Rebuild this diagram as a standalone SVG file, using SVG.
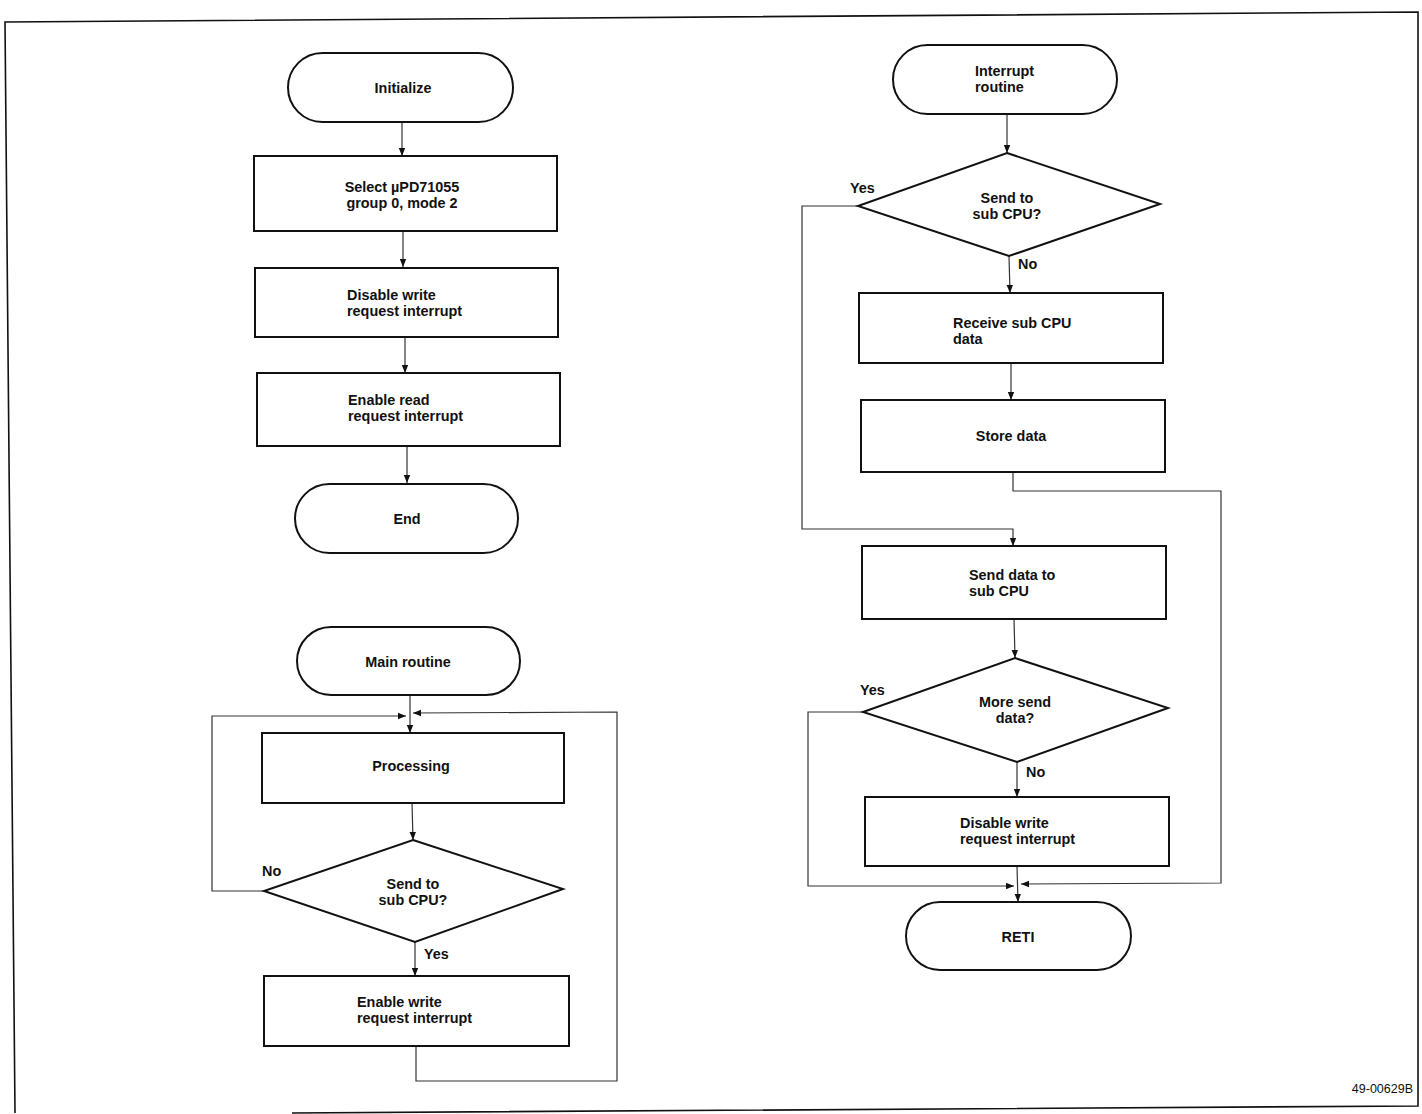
<svg xmlns="http://www.w3.org/2000/svg" width="1422" height="1114" viewBox="0 0 1422 1114">
<defs>
<marker id="ah" viewBox="0 0 10 10" refX="10" refY="5" markerWidth="8" markerHeight="8" markerUnits="userSpaceOnUse" orient="auto">
<path d="M0,1 L10,5 L0,9 z" fill="#111"/>
</marker>
</defs>
<style>
.shape{fill:#fff;stroke:#111;stroke-width:2}
.t{font-family:"Liberation Sans",Arial,sans-serif;font-size:14.4px;font-weight:bold;fill:#111}
.m{text-anchor:middle}
.c{fill:none;stroke:#333;stroke-width:1.2}
.a{marker-end:url(#ah)}
.frame{fill:none;stroke:#111;stroke-width:1.6}
.small{font-family:"Liberation Sans",Arial,sans-serif;font-size:12.5px;fill:#111;text-anchor:end}
</style>
<rect width="1422" height="1114" fill="#fff"/>
<path class="frame" d="M292,1113 L1418,1106 L1418,12 L5,22 L15,1113"/>
<text class="small" x="1413" y="1093">49-00629B</text>

<g id="connectors">
<line class="c a" x1="402" y1="122" x2="402" y2="156"/>
<line class="c a" x1="403" y1="231" x2="403" y2="267"/>
<line class="c a" x1="405" y1="337" x2="405" y2="373"/>
<line class="c a" x1="407" y1="446" x2="407" y2="483"/>
<line class="c a" x1="410" y1="695" x2="410" y2="733"/>
<polyline class="c a" points="264,891 212,891 212,716 406,716"/>
<polyline class="c a" points="416,1047 416,1081 617,1081 617,712 413,713"/>
<line class="c a" x1="412" y1="803" x2="413" y2="840"/>
<line class="c a" x1="415" y1="942" x2="415" y2="976"/>
<line class="c a" x1="1007" y1="114" x2="1007" y2="153"/>
<polyline class="c a" points="858,206 802,206 802,529 1013,529 1013,546"/>
<line class="c a" x1="1009" y1="256" x2="1010" y2="293"/>
<line class="c a" x1="1011" y1="363" x2="1011" y2="400"/>
<polyline class="c a" points="1013,472 1013,491 1221,491 1221,883 1021,884"/>
<line class="c a" x1="1014" y1="619" x2="1015" y2="658"/>
<polyline class="c a" points="863,712 808,712 808,886 1014,886"/>
<line class="c a" x1="1017" y1="762" x2="1017" y2="797"/>
<line class="c a" x1="1017" y1="866" x2="1018" y2="902"/>
</g>

<g id="n-initialize">
<rect class="shape" x="288" y="53" width="225" height="69" rx="34.5"/>
<text class="t m" x="403" y="93">Initialize</text>
</g>
<g id="n-select">
<rect class="shape" x="254" y="156" width="303" height="75"/>
<text class="t m" x="402" y="192">Select µPD71055</text>
<text class="t m" x="402" y="208">group 0, mode 2</text>
</g>
<g id="n-disable1">
<rect class="shape" x="255" y="268" width="303" height="69"/>
<text class="t" x="347" y="300">Disable write</text>
<text class="t" x="347" y="316">request interrupt</text>
</g>
<g id="n-enableread">
<rect class="shape" x="257" y="373" width="303" height="73"/>
<text class="t" x="348" y="405">Enable read</text>
<text class="t" x="348" y="421">request interrupt</text>
</g>
<g id="n-end">
<rect class="shape" x="295" y="484" width="223" height="69" rx="34.5"/>
<text class="t m" x="407" y="524">End</text>
</g>

<g id="n-main">
<rect class="shape" x="297" y="627" width="223" height="68" rx="34"/>
<text class="t m" x="408" y="667">Main routine</text>
</g>
<g id="n-processing">
<rect class="shape" x="262" y="733" width="302" height="70"/>
<text class="t m" x="411" y="771">Processing</text>
</g>
<g id="n-send1">
<polygon class="shape" points="413,840 563,889 415,942 264,891"/>
<text class="t m" x="413" y="889">Send to</text>
<text class="t m" x="413" y="905">sub CPU?</text>
<text class="t" x="262" y="876">No</text>
<text class="t" x="424" y="959">Yes</text>
</g>
<g id="n-enablewrite">
<rect class="shape" x="264" y="976" width="305" height="70"/>
<text class="t" x="357" y="1007">Enable write</text>
<text class="t" x="357" y="1023">request interrupt</text>
</g>

<g id="n-interrupt">
<rect class="shape" x="893" y="45" width="224" height="69" rx="34.5"/>
<text class="t" x="975" y="76">Interrupt</text>
<text class="t" x="975" y="92">routine</text>
</g>
<g id="n-send2">
<polygon class="shape" points="1007,153 1160,204 1009,256 858,206"/>
<text class="t m" x="1007" y="203">Send to</text>
<text class="t m" x="1007" y="219">sub CPU?</text>
<text class="t" x="850" y="193">Yes</text>
<text class="t" x="1018" y="269">No</text>
</g>
<g id="n-receive">
<rect class="shape" x="859" y="293" width="304" height="70"/>
<text class="t" x="953" y="328">Receive sub CPU</text>
<text class="t" x="953" y="344">data</text>
</g>
<g id="n-store">
<rect class="shape" x="861" y="400" width="304" height="72"/>
<text class="t m" x="1011" y="441">Store data</text>
</g>
<g id="n-senddata">
<rect class="shape" x="862" y="546" width="304" height="73"/>
<text class="t" x="969" y="580">Send data to</text>
<text class="t" x="969" y="596">sub CPU</text>
</g>
<g id="n-more">
<polygon class="shape" points="1015,658 1168,708 1017,762 863,712"/>
<text class="t m" x="1015" y="707">More send</text>
<text class="t m" x="1015" y="723">data?</text>
<text class="t" x="860" y="695">Yes</text>
<text class="t" x="1026" y="777">No</text>
</g>
<g id="n-disable2">
<rect class="shape" x="865" y="797" width="304" height="69"/>
<text class="t" x="960" y="828">Disable write</text>
<text class="t" x="960" y="844">request interrupt</text>
</g>
<g id="n-reti">
<rect class="shape" x="906" y="902" width="225" height="68" rx="34"/>
<text class="t m" x="1018" y="942">RETI</text>
</g>
</svg>
